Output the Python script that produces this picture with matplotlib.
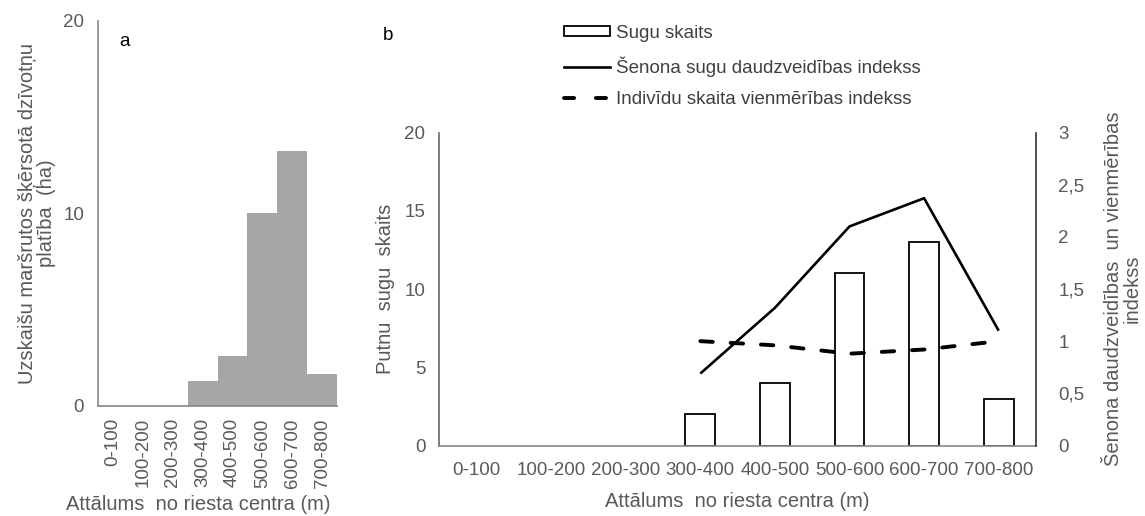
import matplotlib
matplotlib.use("Agg")
import matplotlib.pyplot as plt
from matplotlib.patches import Patch
from matplotlib.lines import Line2D
from matplotlib.ticker import FuncFormatter
import numpy as np

plt.rcParams['font.family'] = ['Liberation Sans', 'DejaVu Sans']

categories = ["0-100", "100-200", "200-300", "300-400", "400-500", "500-600", "600-700", "700-800"]
habitat_area = [0, 0, 0, 1.3, 2.6, 10.0, 13.25, 1.65]          # ha, panel a
species_count = [np.nan, np.nan, np.nan, 2, 4, 11, 13, 3]      # panel b bars
shannon_index = [np.nan, np.nan, np.nan, 0.69, 1.32, 2.10, 2.37, 1.10]
evenness_index = [np.nan, np.nan, np.nan, 1.00, 0.96, 0.88, 0.92, 1.00]

GRAY_TXT = "#595959"
SPINE = "#868686"
FS_TICK = 13.5
FS_LAB = 14.5

W, H = 1145, 516
fig = plt.figure(figsize=(W / 100, H / 100), dpi=100)

def px_axes(left, top, right, bottom):
    return fig.add_axes([left / W, 1 - bottom / H, (right - left) / W, (bottom - top) / H])

x = np.arange(len(categories))

# ---- panel a ----
axa = px_axes(98, 20.7, 337, 405.7)
axa.bar(x, habitat_area, width=1.0, color="#a6a6a6", linewidth=0)
axa.set_xlim(-0.5, 7.5)
axa.set_ylim(0, 20)
axa.set_yticks([0, 10, 20])
axa.set_xticks(x)
axa.set_xticklabels(categories, rotation=90, va="top", ha="center")
axa.tick_params(length=0, labelsize=FS_TICK, labelcolor=GRAY_TXT)
axa.tick_params(axis="y", pad=10)
axa.tick_params(axis="x", pad=9)
for s in ["top", "right"]:
    axa.spines[s].set_visible(False)
for s in ["left", "bottom"]:
    axa.spines[s].set_color(SPINE)
    axa.spines[s].set_linewidth(1.2)
axa.set_ylabel("Uzskaišu maršrutos šķērsotā dzīvotņu\nplatība  (ha)", fontsize=FS_LAB,
               color=GRAY_TXT, linespacing=1.0)
axa.yaxis.set_label_coords(-0.175, 0.5)
axa.set_xlabel("Attālums  no riesta centra (m)", fontsize=FS_LAB, color=GRAY_TXT)
axa.xaxis.set_label_coords(0.418, -0.232)
fig.text(125 / W, 1 - 42 / H, "a", fontsize=13.5, ha="center", va="center")

# ---- panel b ----
axb = px_axes(439.3, 132.5, 1036, 445.5)
mask = ~np.isnan(species_count)
axb.bar(x[mask], np.array(species_count)[mask], width=0.4, facecolor="white",
        edgecolor="black", linewidth=1.3, zorder=2)
axb.set_xlim(-0.5, 7.5)
axb.set_ylim(0, 20)
axb.set_yticks([0, 5, 10, 15, 20])
axb.set_xticks(x)
axb.set_xticklabels(categories)
axb.tick_params(length=0, labelsize=FS_TICK, labelcolor=GRAY_TXT)
axb.tick_params(axis="y", pad=10)
axb.tick_params(axis="x", pad=12)
axb.spines["top"].set_visible(False)
axb.spines["right"].set_visible(False)
axb.spines["left"].set_color("#666666")
axb.spines["bottom"].set_color(SPINE)
axb.spines["left"].set_linewidth(1.2)
axb.spines["bottom"].set_linewidth(1.2)
axb.set_ylabel("Putnu  sugu  skaits", fontsize=FS_LAB, color=GRAY_TXT)
axb.yaxis.set_label_coords(-0.074, 0.5)
axb.set_xlabel("Attālums  no riesta centra (m)", fontsize=FS_LAB, color=GRAY_TXT)
axb.xaxis.set_label_coords(0.5, -0.147)

ax2 = axb.twinx()
ax2.plot(x, shannon_index, color="black", linewidth=1.9, solid_capstyle="butt", zorder=3)
ax2.plot(x, evenness_index, color="black", linewidth=2.8, dashes=(3.2, 4.6),
         dash_capstyle="round", zorder=3)
ax2.set_ylim(0, 3)
ax2.set_yticks(np.arange(0, 3.01, 0.5))
ax2.yaxis.set_major_formatter(FuncFormatter(lambda v, p: f"{v:g}".replace(".", ",")))
ax2.tick_params(length=0, labelsize=FS_TICK, labelcolor=GRAY_TXT, pad=16)
for s in ["top", "left", "bottom"]:
    ax2.spines[s].set_visible(False)
ax2.spines["right"].set_color("#333333")
ax2.spines["right"].set_linewidth(1.2)
ax2.set_ylabel("Šenona daudzveidības  un vienmērības\nindekss", fontsize=FS_LAB,
               color=GRAY_TXT, linespacing=0.95)
ax2.yaxis.set_label_coords(1.114, 0.5)

fig.text(388 / W, 1 - 35 / H, "b", fontsize=13.5, ha="center", va="center")

handles = [
    Patch(facecolor="white", edgecolor="black", linewidth=1.3),
    Line2D([], [], color="black", linewidth=1.9),
    Line2D([], [], color="black", linewidth=2.8, dashes=(2.6, 5.6), dash_capstyle="round"),
]
labels = ["Sugu skaits", "Šenona sugu daudzveidības indekss", "Indivīdu skaita vienmērības indekss"]
fig.legend(handles, labels, loc="upper left", bbox_to_anchor=(564 / W, 1 - 25 / H),
           frameon=False, fontsize=13.5, handlelength=2.45, handleheight=0.45,
           handletextpad=0.35, labelspacing=0.75, borderpad=0, borderaxespad=0,
           labelcolor="#404040")

fig.savefig("out.png", dpi=100)
